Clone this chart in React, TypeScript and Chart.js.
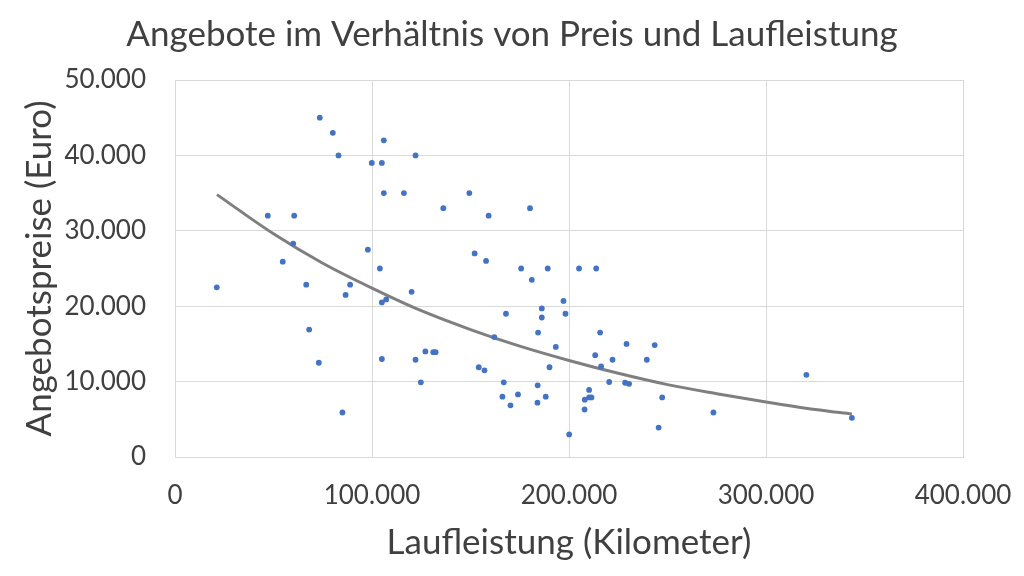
import React, { useEffect, useRef } from "react";
import Chart from "chart.js/auto";

// Laufleistung (km) und Angebotspreis (Euro)
const kilometers = [
  73500, 80100, 106000, 83000, 99900, 105000, 122100, 106000, 116200, 149400,
  136200, 47100, 60500, 60000, 97900, 54700, 104000, 21200, 66600, 88900,
  86600, 120100, 105000, 107200, 68100, 73000, 105000, 122100, 127100, 131100,
  132300, 124800, 85000, 159200, 180200, 152100, 157900, 175700, 189200, 205100,
  213800, 181100, 197200, 186200, 186200, 198200, 168000, 184300, 215800, 162100,
  193300, 229200, 243500, 213300, 222100, 239500, 216300, 154200, 157100, 190100,
  166900, 184100, 220400, 228500, 230500, 166200, 174100, 188200, 170300, 184000,
  210200, 208000, 210200, 211400, 207900, 247300, 245500, 200100, 273300, 320500,
  343600,
];
const prices = [
  45000, 43000, 42000, 40000, 39000, 39000, 40000, 35000, 35000, 35000,
  33000, 32000, 32000, 28300, 27500, 25900, 25000, 22500, 22850, 22850,
  21500, 21900, 20500, 20900, 16900, 12500, 13000, 12900, 14000, 13900,
  13900, 9900, 5900, 32000, 33000, 27000, 26000, 25000, 25000, 25000,
  25000, 23500, 20700, 19700, 18500, 19000, 19000, 16500, 16500, 15900,
  14600, 15000, 14850, 13500, 12900, 12900, 12000, 11900, 11500, 11900,
  9900, 9500, 9950, 9850, 9700, 8000, 8300, 8000, 6850, 7200,
  8900, 7600, 7900, 7900, 6300, 7900, 3900, 3000, 5900, 10900,
  5200,
];

// Trendlinie (exponentiell)
const trendKm = [21300, 50000, 75000, 100000, 125000, 150000, 175000, 200000, 225000, 250000, 275000, 300000, 325000, 343600];
const trendPrice = [34800, 29600, 25700, 22400, 19400, 16900, 14700, 12800, 11100, 9600, 8400, 7300, 6300, 5700];

const xTicks = [0, 100000, 200000, 300000, 400000];
const yTicks = [0, 10000, 20000, 30000, 40000, 50000];

const chartTitle = "Angebote im Verhältnis von Preis und Laufleistung";
const textColor = "#404040";
const gridColor = "#d9d9d9";
const fontFamily = "Lato, 'Open Sans', sans-serif";

function formatDe(v: number) {
  return String(Math.round(v)).replace(/\B(?=(\d{3})+(?!\d))/g, ".");
}

// Titel mittig über dem ganzen Bild
const titlePlugin = {
  id: "pageTitle",
  afterDraw(chart: any) {
    const c = chart.ctx;
    c.save();
    c.fillStyle = textColor;
    c.font = `35px ${fontFamily}`;
    c.textAlign = "center";
    c.textBaseline = "middle";
    c.fillText(chartTitle, chart.width / 2, 35);
    c.restore();
  },
};

const App: React.FC = () => {
  const chartRef = useRef<HTMLCanvasElement>(null);

  useEffect(() => {
    if (!chartRef.current) return;
    const ctx = chartRef.current.getContext("2d");
    if (!ctx) return;

    const myChart = new Chart(ctx, {
      type: "scatter",
      data: {
        datasets: [
          {
            label: "Angebote",
            data: kilometers.map((k, i) => ({ x: k, y: prices[i] })),
            backgroundColor: "#4472c4",
            borderColor: "#4472c4",
            pointRadius: 2.9,
            pointBorderWidth: 0,
          },
          {
            label: "Trend",
            data: trendKm.map((k, i) => ({ x: k, y: trendPrice[i] })),
            showLine: true,
            borderColor: "#7f7f7f",
            borderWidth: 3,
            pointRadius: 0,
            cubicInterpolationMode: "monotone",
          },
        ],
      },
      options: {
        animation: false,
        responsive: true,
        maintainAspectRatio: false,
        layout: {
          padding: { left: 0, right: 61, top: 80, bottom: 0 },
        },
        plugins: {
          legend: { display: false },
          tooltip: { enabled: false },
          title: { display: false },
        },
        scales: {
          x: {
            type: "linear",
            min: 0,
            max: 400000,
            afterBuildTicks: (scale: any) => {
              scale.ticks = xTicks.map((v) => ({ value: v }));
            },
            afterFit: (scale: any) => {
              scale.height = 119;
              scale.paddingLeft = 0;
              scale.paddingRight = 0;
            },
            ticks: {
              color: textColor,
              font: { family: fontFamily, size: 26 },
              padding: 23,
              callback: (v: any) => formatDe(Number(v)),
            },
            grid: { color: gridColor, drawTicks: false, lineWidth: 1 },
            border: { color: gridColor, width: 1 },
            title: {
              display: true,
              text: "Laufleistung (Kilometer)",
              color: textColor,
              font: { family: fontFamily, size: 35 },
              padding: { top: 0, bottom: 12 },
            },
          },
          y: {
            type: "linear",
            min: 0,
            max: 50000,
            afterBuildTicks: (scale: any) => {
              scale.ticks = yTicks.map((v) => ({ value: v }));
            },
            afterFit: (scale: any) => {
              scale.width = 175;
              scale.paddingTop = 0;
              scale.paddingBottom = 0;
            },
            ticks: {
              color: textColor,
              font: { family: fontFamily, size: 26 },
              padding: 29,
              callback: (v: any) => formatDe(Number(v)),
            },
            grid: { color: gridColor, drawTicks: false, lineWidth: 1 },
            border: { color: gridColor, width: 1 },
            title: {
              display: true,
              text: "Angebotspreise (Euro)",
              color: textColor,
              font: { family: fontFamily, size: 35 },
              padding: { top: 19, bottom: 0 },
            },
          },
        },
      },
      plugins: [titlePlugin],
    });

    return () => {
      myChart.destroy();
    };
  }, []);

  return (
    <div style={{ position: "fixed", left: 0, top: 0, width: 1024, height: 576, background: "#fff" }}>
      <canvas ref={chartRef} />
    </div>
  );
};

export default App;
